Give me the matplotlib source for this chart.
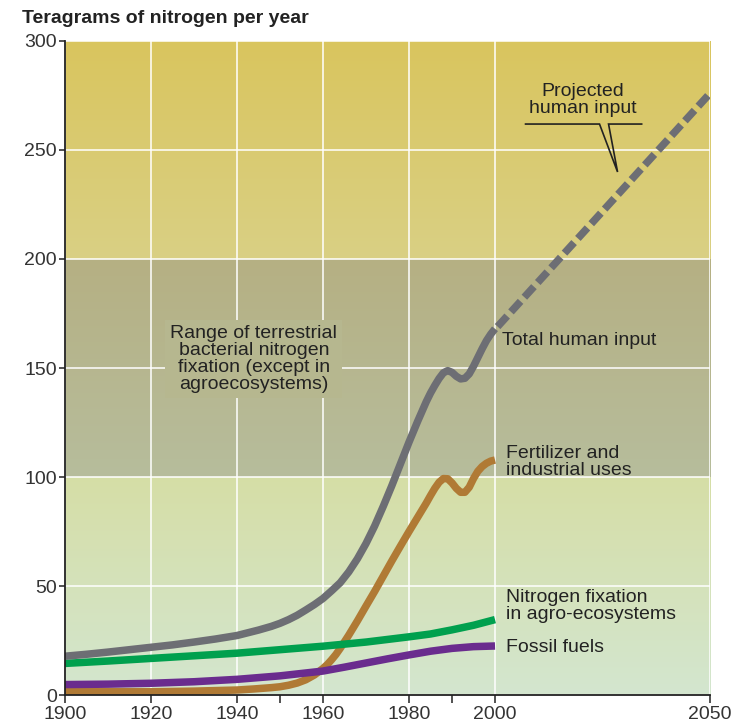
import numpy as np
import matplotlib
matplotlib.use("Agg")
import matplotlib.pyplot as plt
import matplotlib.colors as mcolors
import matplotlib.ticker as ticker

plt.rcParams["font.family"] = ["Liberation Sans", "DejaVu Sans"]

# --- data (Tg N per year) ---
total_years = [1900, 1905, 1910, 1915, 1920, 1925, 1930, 1935, 1940, 1945, 1948,
               1950, 1952, 1954, 1956, 1958, 1960, 1962, 1964, 1966, 1968, 1970,
               1972, 1974, 1976, 1978, 1980, 1982, 1984, 1985, 1986, 1987, 1988,
               1989, 1990, 1991, 1992, 1993, 1994, 1995, 1996, 1997, 1998, 1999,
               2000]
total_vals = [17.8, 18.7, 19.7, 20.8, 21.9, 23.0, 24.3, 25.7, 27.3, 29.8, 31.5,
              32.9, 34.6, 36.6, 39.0, 41.5, 44.3, 47.8, 51.5, 56.5, 62.5, 69.5,
              77.5, 86.5, 96.0, 106.0, 116.0, 125.5, 134.5, 138.5, 142.0, 145.2, 147.8,
              148.8, 148.0, 146.2, 145.0, 145.3, 147.3, 150.8, 154.8, 158.8, 162.5, 165.5,
              168.0]

fert_years = [1900, 1920, 1930, 1940, 1944, 1948, 1950, 1952, 1954, 1956, 1958,
              1960, 1961, 1962, 1963, 1964, 1966, 1968, 1970, 1972, 1974, 1976,
              1978, 1980, 1982, 1984, 1985, 1986, 1987, 1988, 1989, 1990, 1991,
              1992, 1993, 1994, 1995, 1996, 1997, 1998, 1999, 2000]
fert_vals = [1.5, 1.5, 1.8, 2.3, 2.8, 3.4, 3.8, 4.5, 5.5, 7.0, 9.2,
             12.2, 14.0, 16.2, 18.6, 21.4, 27.5, 34.0, 40.8, 47.5, 54.5, 61.5,
             68.3, 75.0, 81.5, 88.0, 91.5, 94.8, 97.6, 99.3, 99.2, 97.3, 94.8,
             93.0, 93.0, 95.3, 99.3, 102.6, 104.8, 106.3, 107.3, 107.8]

agro_years = [1900, 1910, 1920, 1930, 1940, 1950, 1960, 1970, 1980, 1985,
              1990, 1995, 2000]
agro_vals = [14.5, 15.6, 16.8, 18.0, 19.2, 20.8, 22.4, 24.3, 26.7, 28.0,
             29.9, 32.0, 34.6]

fossil_years = [1900, 1910, 1920, 1930, 1940, 1950, 1960, 1965, 1970, 1975,
                1980, 1985, 1990, 1995, 2000]
fossil_vals = [4.8, 5.0, 5.4, 6.1, 7.2, 8.8, 11.0, 12.8, 14.7, 16.6,
               18.4, 20.1, 21.4, 22.2, 22.5]

proj_years = [2000.6, 2050]
proj_vals = [169, 276]

xticks_major = [1900, 1920, 1940, 1960, 1980, 2000, 2050]
xticks_minor = [1950, 1990]
yticks = [0, 50, 100, 150, 200, 250, 300]

fig = plt.figure(figsize=(7.4, 7.24), dpi=100)
ax = fig.add_axes([0.0878, 0.040, 0.8717, 0.9034])

# background bands with vertical gradients
bands = [(0, 100, "#D3E6CF", "#D6DEA6"),
         (100, 200, "#B7BD9C", "#B5B083"),
         (200, 300, "#DAD084", "#D9C55E")]
for y0, y1, c_bot, c_top in bands:
    c0 = np.array(mcolors.to_rgb(c_bot))
    c1 = np.array(mcolors.to_rgb(c_top))
    t = np.linspace(0, 1, 128)[:, None]
    grad = (c0 * (1 - t) + c1 * t)[:, None, :]
    ax.imshow(grad, extent=[1900, 2050, y0, y1], origin="lower",
              aspect="auto", zorder=0, interpolation="bilinear")

ax.set_xlim(1900, 2050)
ax.set_ylim(0, 300)
ax.set_axisbelow(True)
ax.grid(True, which="major", color="white", lw=1.1)

lw = 5.4
style = dict(lw=lw, solid_capstyle="butt", solid_joinstyle="round", zorder=3)
ax.plot(fert_years, fert_vals, color="#B07A35", **style)
ax.plot(fossil_years, fossil_vals, color="#6A2C8E", **style)
ax.plot(agro_years, agro_vals, color="#00A04E", **style)
ax.plot(total_years, total_vals, color="#6D6E74", **style)
ax.plot(proj_years, proj_vals, color="#6D6E74", lw=lw, dashes=(1.9, 0.75),
        dash_capstyle="butt", zorder=4)

# labels
tc = "#222222"
fs = 14
ax.text(2001.6, 162.8, "Total human input", fontsize=fs, color=tc,
        ha="left", va="center", zorder=5)
ax.text(2002.6, 107.1, "Fertilizer and\nindustrial uses", fontsize=fs, color=tc,
        ha="left", va="center", linespacing=1.0, zorder=5)
ax.text(2002.6, 40.8, "Nitrogen fixation\nin agro-ecosystems", fontsize=fs, color=tc,
        ha="left", va="center", linespacing=1.0, zorder=5)
ax.text(2002.6, 21.6, "Fossil fuels", fontsize=fs, color=tc,
        ha="left", va="center", zorder=5)
ax.text(2020.4, 273, "Projected\nhuman input", fontsize=fs, color=tc,
        ha="center", va="center", linespacing=1.0, zorder=5)
ax.text(1943.9, 154, "Range of terrestrial\nbacterial nitrogen\nfixation (except in\nagroecosystems)",
        fontsize=fs, color=tc, ha="center", va="center", linespacing=1.0, zorder=5,
        bbox=dict(boxstyle="square,pad=0.25", facecolor="#B6B78F", edgecolor="none"))

# callout for projection
cx = [2007.1, 2024.3, 2028.5, 2026.4, 2034.1]
cy = [261.9, 261.9, 239.9, 261.9, 261.9]
ax.plot(cx, cy, color="#222222", lw=1.2, zorder=5, solid_joinstyle="miter")

# axes styling
for s in ["top", "right"]:
    ax.spines[s].set_visible(False)
for s in ["left", "bottom"]:
    ax.spines[s].set_color("#222222")
    ax.spines[s].set_linewidth(1.3)
    ax.spines[s].set_zorder(6)

ax.set_xticks(xticks_major)
ax.xaxis.set_minor_locator(ticker.FixedLocator(xticks_minor))
ax.set_yticks(yticks)
ax.tick_params(axis="both", which="both", direction="out", colors="#222222",
               labelcolor="#333333", labelsize=14, width=1.1)
ax.tick_params(axis="y", length=4, pad=2)
ax.tick_params(axis="x", which="major", length=6, pad=2)
ax.tick_params(axis="x", which="minor", length=6)

fig.text(0.0297, 0.975, "Teragrams of nitrogen per year", fontsize=14,
         fontweight="bold", color="#222222", ha="left", va="center")

fig.savefig("out.png", dpi=100)
